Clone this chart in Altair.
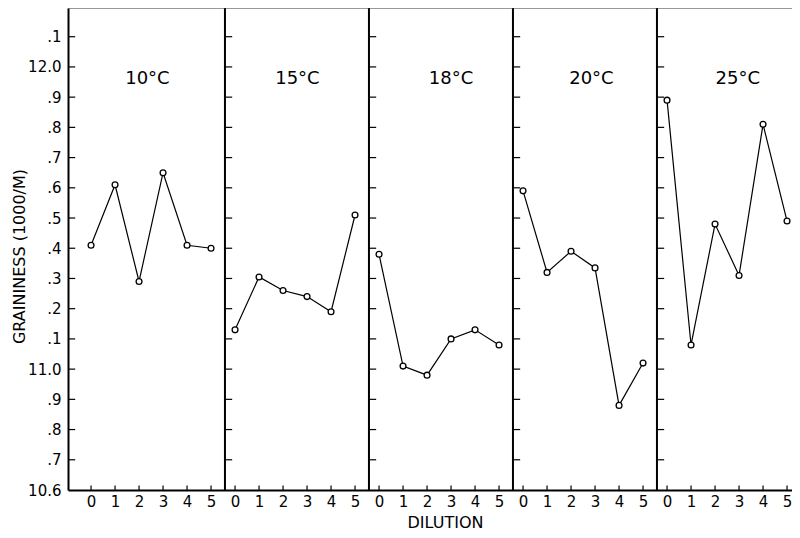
import json
import altair as alt
import pandas as pd

# ---- data ----
temps = ["10°C", "15°C", "18°C", "20°C", "25°C"]
dilution = [0, 1, 2, 3, 4, 5]
g10 = [11.41, 11.61, 11.29, 11.65, 11.41, 11.40]
g15 = [11.13, 11.305, 11.26, 11.24, 11.19, 11.51]
g18 = [11.38, 11.01, 10.98, 11.10, 11.13, 11.08]
g20 = [11.59, 11.32, 11.39, 11.335, 10.88, 11.02]
g25 = [11.89, 11.08, 11.48, 11.31, 11.81, 11.49]
series = [g10, g15, g18, g20, g25]

y_ticks = [10.6, 10.7, 10.8, 10.9, 11.0, 11.1, 11.2, 11.3, 11.4, 11.5,
           11.6, 11.7, 11.8, 11.9, 12.0, 12.1]
y_tick_labels = ["10.6", ".7", ".8", ".9", "11.0", ".1", ".2", ".3", ".4", ".5",
                 ".6", ".7", ".8", ".9", "12.0", ".1"]
x_tick_labels = ["0", "1", "2", "3", "4", "5"]

# ---- layout / style helpers ----
SPAN = 6
W, H = 724, 482
X_MIN = -0.96
X_MAX = X_MIN + W / 24.0
Y_MIN, Y_MAX = 10.6, 12.195
FONT = "DejaVu Sans"
TITLE_DX = [2.35, 2.6, 3.0, 2.85, 2.95]   # panel-title placement within each panel

rows = []
for p, (t, vals) in enumerate(zip(temps, series)):
    for d, v in zip(dilution, vals):
        rows.append({"temp": t, "panel": p, "xpos": p * SPAN + d, "value": v})
df = pd.DataFrame(rows)

bounds = [p * SPAN - 0.42 for p in range(1, len(temps))]
bdf = pd.DataFrame({"xpos": bounds})

ytick_rows = []
for b in [X_MIN] + bounds:
    for v in y_ticks[1:]:
        ytick_rows.append({"xpos": b, "xpos2": b + 0.3, "value": v})
ytdf = pd.DataFrame(ytick_rows)

xtick_rows = []
for p in range(len(temps)):
    for d in dilution:
        xtick_rows.append({"xpos": p * SPAN + d, "value": Y_MIN, "value2": Y_MIN + 0.015})
xtdf = pd.DataFrame(xtick_rows)

tdf = pd.DataFrame({"temp": temps,
                    "xpos": [p * SPAN + TITLE_DX[p] for p in range(len(temps))]})
topdf = pd.DataFrame({"value": [Y_MAX]})

ymap = {f"{v:.1f}": lab for v, lab in zip(y_ticks, y_tick_labels)}
y_label_expr = f"{json.dumps(ymap)}[format(datum.value, '.1f')]"
x_label_expr = f"{json.dumps(x_tick_labels)}[datum.value % {SPAN}]"

xscale = alt.Scale(domain=[X_MIN, X_MAX], nice=False, zero=False)
yscale = alt.Scale(domain=[Y_MIN, Y_MAX], nice=False, zero=False)

xaxis = alt.Axis(
    values=[p * SPAN + d for p in range(len(temps)) for d in dilution],
    labelExpr=x_label_expr, tickSize=0, grid=False,
    domainColor="black", domainWidth=2,
    labelFont=FONT, labelFontSize=15, labelColor="black", labelPadding=4,
    title="DILUTION", titleFont=FONT, titleFontSize=16, titleFontWeight="normal",
    titleColor="black", titleX=377, titleY=32, titleAlign="center",
    titleBaseline="middle",
)
yaxis = alt.Axis(
    values=y_ticks, labelExpr=y_label_expr, tickSize=0, grid=False,
    domainColor="black", domainWidth=2,
    labelFont=FONT, labelFontSize=15, labelColor="black", labelPadding=7,
    title="GRAININESS (1000/M)", titleFont=FONT, titleFontSize=16,
    titleFontWeight="normal", titleColor="black", titleX=-49, titleY=248,
    titleAngle=270, titleAlign="center", titleBaseline="middle",
)

X = lambda: alt.X("xpos:Q", scale=xscale, axis=xaxis)
Y = lambda: alt.Y("value:Q", scale=yscale, axis=yaxis)

lines = alt.Chart(df).mark_line(color="black", strokeWidth=1.2).encode(
    x=X(), y=Y(), detail="temp:N"
)
points = alt.Chart(df).mark_point(
    shape="circle", filled=True, fill="white", stroke="black",
    strokeWidth=1.3, size=34, opacity=1
).encode(x=X(), y=Y())

brules = alt.Chart(bdf).mark_rule(color="black", strokeWidth=2).encode(x=X())
top = alt.Chart(topdf).mark_rule(color="#333333", strokeWidth=1.2).encode(y=Y())
yticks = alt.Chart(ytdf).mark_rule(color="black", strokeWidth=1.2).encode(
    x=X(), x2="xpos2:Q", y=Y()
)
xticks = alt.Chart(xtdf).mark_rule(color="black", strokeWidth=1.2).encode(
    x=X(), y=Y(), y2="value2:Q"
)
titles = alt.Chart(tdf).mark_text(
    font=FONT, fontSize=18, color="black", baseline="middle", align="center"
).encode(x=X(), y=alt.value(70.5), text="temp:N")

chart = alt.layer(brules, top, yticks, xticks, lines, points, titles).properties(
    width=W, height=H,
    autosize=alt.AutoSizeParams(type="none"),
    padding={"left": 60, "top": 0, "right": 0, "bottom": 40},
).configure_view(stroke=None)

chart.save("out.html", embed_options={"renderer": "svg", "actions": False})
